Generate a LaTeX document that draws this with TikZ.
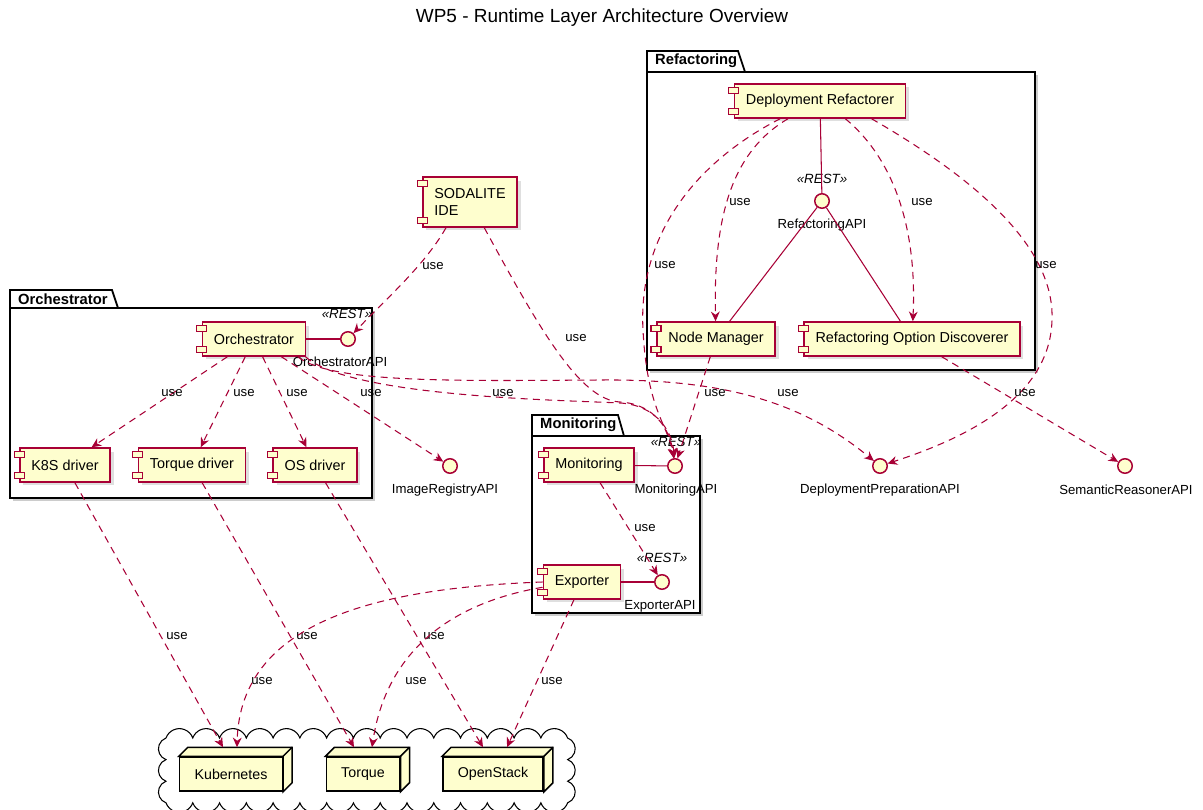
\documentclass[tikz,border=0pt]{standalone}
\usepackage{fontspec}
\setmainfont{Liberation Sans}
\usetikzlibrary{arrows.meta,shadows,calc}

\definecolor{umlred}{HTML}{A80036}
\definecolor{umlfill}{HTML}{FEFECE}

\tikzset{
    comp/.style={draw=umlred, fill=umlfill, line width=0.85pt, minimum height=0.68cm, inner xsep=0.23cm,
        font=\fontsize{8.2}{9.6}\selectfont, drop shadow={shadow xshift=0.07cm, shadow yshift=-0.07cm, opacity=0.25}},
    tabbox/.style={draw=umlred, fill=umlfill, line width=0.7pt},
    iface/.style={circle, draw=umlred, fill=umlfill, line width=0.85pt, minimum size=0.29cm, inner sep=0pt},
    apiname/.style={font=\fontsize{7.5}{9}\selectfont},
    stereo/.style={font=\fontsize{7.6}{9}\selectfont\itshape},
    uselbl/.style={font=\fontsize{7.5}{9}\selectfont},
    dep/.style={draw=umlred, line width=0.6pt, dash pattern=on 4pt off 3pt,
        -{Stealth[length=5.5pt, width=5pt, inset=1.8pt]}},
    link/.style={draw=umlred, line width=0.6pt},
    pkgbox/.style={draw=black, fill=white, line width=1pt,
        drop shadow={shadow xshift=0.06cm, shadow yshift=-0.06cm, opacity=0.4}},
    pkgtab/.style={draw=black, fill=white, line width=1pt},
    pkgname/.style={font=\fontsize{8.4}{10}\selectfont\bfseries, anchor=west},
    infra/.style={draw=black, fill=umlfill, line width=0.85pt, minimum height=0.68cm, inner xsep=0.3cm,
        font=\fontsize{8.1}{10}\selectfont},
    cloudline/.style={draw=black, fill=white, line width=0.6pt},
}

\begin{document}
\begin{tikzpicture}[x=0.02cm, y=-0.02cm]
    \useasboundingbox (0,0) rectangle (1203,810);
    \clip (0,0) rectangle (1203,810);

    \node[font=\fontsize{10.8}{13}\selectfont] (title) at (602,18) {WP5 - Runtime Layer Architecture Overview};

    % packages
    \draw[pkgbox] (647,72) rectangle (1035,370);
    \draw[pkgtab] (647,72) -- (647,51) -- (738,51) -- (745,72) -- cycle;
    \node[pkgname] (refpkg) at (649,61) {Refactoring};

    \draw[pkgbox] (10,308) rectangle (372,498);
    \draw[pkgtab] (10,308) -- (10,290) -- (112,290) -- (118,308) -- cycle;
    \node[pkgname] (orchpkg) at (12,299) {Orchestrator};

    \draw[pkgbox] (532,436) rectangle (700,613);
    \draw[pkgtab] (532,436) -- (532,415) -- (618,415) -- (624,436) -- cycle;
    \node[pkgname] (monpkg) at (534,425) {Monitoring};

    % cloud
    \draw[cloudline] (166,738)
        \foreach \i in {1,...,15} {arc[start angle=160, end angle=20, radius=0.285cm]}
        \foreach \i in {1,2,3} {arc[start angle=70, end angle=-70, radius=0.23cm]}
        \foreach \i in {1,...,15} {arc[start angle=-20, end angle=-160, radius=0.285cm]}
        \foreach \i in {1,2,3} {arc[start angle=250, end angle=110, radius=0.23cm]} -- cycle;

    % components
    \node[comp] (dr) at (820,101) {Deployment Refactorer};
    \node[comp] (nm) at (716,339) {Node Manager};
    \node[comp] (rod) at (912,339) {Refactoring Option Discoverer};
    \node[comp, align=left, minimum height=1cm] (ide) at (470,202) {SODALITE\\IDE};
    \node[comp] (orch) at (254,339) {Orchestrator};
    \node[comp] (k8s) at (65,465) {K8S driver};
    \node[comp] (torqd) at (192,465) {Torque driver};
    \node[comp] (osd) at (315,465) {OS driver};
    \node[comp] (mon) at (589,465) {Monitoring};
    \node[comp] (exp) at (582,582) {Exporter};

    \foreach \n in {dr,nm,rod,ide,orch,k8s,torqd,osd,mon,exp} {
        \draw[tabbox] ([shift={(-5,4)}]\n.north west) rectangle ++(10,6);
        \draw[tabbox] ([shift={(-5,-10)}]\n.south west) rectangle ++(10,6);
    }

    % interfaces
    \node[iface] (refapi) at (822,201) {};
    \node[stereo] (refrest) at (822,179) {«REST»};
    \node[apiname] (refname) at (822,225) {RefactoringAPI};

    \node[iface] (orchapi) at (348,339) {};
    \node[stereo] (orchrest) at (347,314) {«REST»};
    \node[apiname] (orchname) at (340,362) {OrchestratorAPI};

    \node[iface] (imgapi) at (450,466) {};
    \node[apiname] (imgname) at (445,490) {ImageRegistryAPI};

    \node[iface] (monapi) at (675,466) {};
    \node[stereo] (monrest) at (676,442) {«REST»};
    \node[apiname] (monname) at (676,490) {MonitoringAPI};

    \node[iface] (expapi) at (662,582) {};
    \node[stereo] (exprest) at (662,558) {«REST»};
    \node[apiname] (expname) at (660,606) {ExporterAPI};

    \node[iface] (dpapi) at (880,466) {};
    \node[apiname] (dpname) at (880,490) {DeploymentPreparationAPI};

    \node[iface] (srapi) at (1125,466) {};
    \node[apiname] (srname) at (1126,490) {SemanticReasonerAPI};

    % infrastructure
    \node[infra] (kube) at (231,774) {Kubernetes};
    \node[infra] (torque) at (363,774) {Torque};
    \node[infra] (ostack) at (493,774) {OpenStack};

    \foreach \n in {kube,torque,ostack} {
        \draw[infra] (\n.north west) -- ++(9,-9) -- ($(\n.north east)+(9,-9)$) -- ($(\n.south east)+(9,-9)$)
            -- (\n.south east) -- (\n.north east) -- cycle;
        \draw[line width=0.85pt] (\n.north east) -- ++(9,-9);
    }

    % provided interfaces
    \path[link] (dr) edge (refapi);
    \path[link] (refapi) edge (nm);
    \path[link] (refapi) edge (rod);
    \path[link] (orch) edge (orchapi);
    \path[link] (mon) edge (monapi);
    \path[link] (exp) edge (expapi);

    % dependencies
    \draw[dep] (dr.209) .. controls (735,150) and (713,210) .. (nm)
        node[uselbl, at={(740,202)}] {use};
    \draw[dep] (dr.-35) .. controls (895,160) and (917,230) .. (rod)
        node[uselbl, at={(922,202)}] {use};
    \draw[dep] (dr.204) .. controls (690,165) and (638,240) .. (643,330) .. controls (647,410) and (668,425) .. (monapi)
        node[uselbl, at={(665,265)}] {use};
    \draw[dep] (dr.-19) .. controls (960,170) and (1055,240) .. (1052,320) .. controls (1050,400) and (960,440) .. (dpapi)
        node[uselbl, at={(1046,265)}] {use};

    \draw[dep] (ide.227) .. controls (425,265) and (385,300) .. (orchapi)
        node[uselbl, at={(433,266)}] {use};
    \draw[dep] (ide.-61) .. controls (540,330) and (580,400) .. (620,402) .. controls (655,404) and (670,430) .. (monapi)
        node[uselbl, at={(576,338)}] {use};

    \draw[dep] (orch) -- (k8s) node[uselbl, at={(172,393)}] {use};
    \draw[dep] (orch) -- (torqd) node[uselbl, at={(244,393)}] {use};
    \draw[dep] (orch) -- (osd) node[uselbl, at={(297,393)}] {use};
    \draw[dep] (orch) -- (imgapi) node[uselbl, at={(371,393)}] {use};
    \draw[dep] (orch.-19) .. controls (350,397) and (560,400) .. (620,403) .. controls (655,405) and (672,430) .. (monapi)
        node[uselbl, at={(503,393)}] {use};
    \draw[dep] (orch.-22) .. controls (330,383) and (450,381) .. (600,380) .. controls (720,379) and (800,400) .. (dpapi)
        node[uselbl, at={(788,393)}] {use};

    \draw[dep] (nm) -- (monapi) node[uselbl, at={(715,393)}] {use};
    \draw[dep] (rod) -- (srapi) node[uselbl, at={(1025,393)}] {use};
    \draw[dep] (mon) -- (expapi) node[uselbl, at={(645,528)}] {use};

    \draw[dep] (k8s) -- ([shift={(-8,-9)}]kube.north) node[uselbl, at={(177,636)}] {use};
    \draw[dep] (torqd) -- ([shift={(-9,-9)}]torque.north) node[uselbl, at={(307,636)}] {use};
    \draw[dep] (osd) -- ([shift={(-10,-9)}]ostack.north) node[uselbl, at={(434,636)}] {use};

    \draw[dep] (exp.west) .. controls (380,588) and (240,620) .. ([shift={(6,-9)}]kube.north)
        node[uselbl, at={(262,681)}] {use};
    \draw[dep] ([yshift=-3pt]exp.west) .. controls (440,605) and (385,660) .. ([shift={(9,-9)}]torque.north)
        node[uselbl, at={(416,681)}] {use};
    \draw[dep] (exp) -- ([shift={(14,-9)}]ostack.north) node[uselbl, at={(552,681)}] {use};

\end{tikzpicture}
\end{document}
